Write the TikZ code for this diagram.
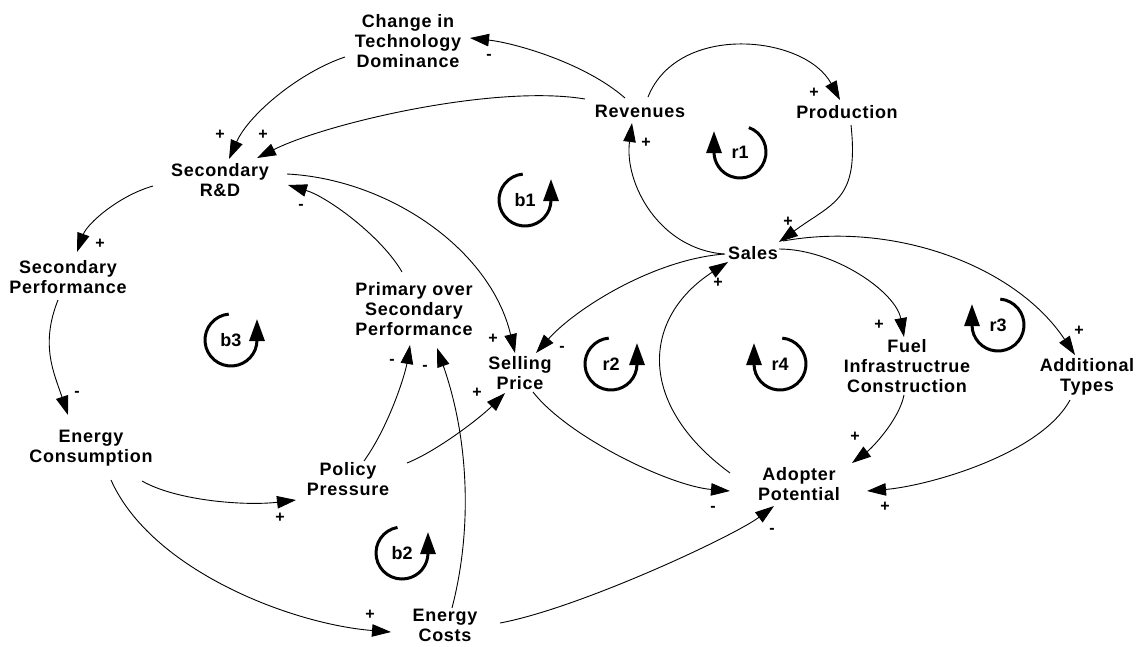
\documentclass[tikz,border=0pt]{standalone}
\usepackage{fontspec}
\setmainfont{Liberation Sans}
\newfontfamily\labfont[LetterSpace=4]{Liberation Sans}
\usetikzlibrary{arrows.meta}
\begin{document}
\begin{tikzpicture}[x=1pt,y=-1pt,
  var/.style={font=\labfont\bfseries\fontsize{18}{20}\selectfont, align=center, inner sep=0pt},
  pol/.style={font=\bfseries\fontsize{16}{16}\selectfont, inner sep=0pt},
  link/.style={line width=0.9pt, -{Triangle[length=19pt,width=12.5pt]}},
  loopmark/.style={line width=3pt, -{Triangle[length=22pt,width=15pt]}},
  looplab/.style={font=\bfseries\fontsize{18}{18}\selectfont, inner sep=0pt}
]
\fill[white] (0,0) rectangle (1140,646);
\useasboundingbox (0,0) rectangle (1140,646);

% variables
\node[var] (ctd) at (408,41) {Change in\\Technology\\Dominance};
\node[var] (rev) at (640,111) {Revenues};
\node[var] (prod) at (847,112) {Production};
\node[var] (srd) at (220,180) {Secondary\\R\&D};
\node[var] (sperf) at (68,277) {Secondary\\Performance};
\node[var] (pos) at (414,309) {Primary over\\Secondary\\Performance};
\node[var] (sp) at (520,373) {Selling\\Price};
\node[var] (ec) at (91,448) {Energy\\Consumption};
\node[var] (pp) at (348,479) {Policy\\Pressure};
\node[var] (ecost) at (445,625) {Energy\\Costs};
\node[var] (sales) at (753,253) {Sales};
\node[var] (fuel) at (907,366) {Fuel\\Infrastructrue\\Construction};
\node[var] (add) at (1087,377) {Additional\\Types};
\node[var] (adopt) at (799,484) {Adopter\\Potential};

% connectors
\draw[link] ([shift={(-15,-13)}]rev.center) .. controls +(-40,-35) and +(45,5) .. ([shift={(62,-3)}]ctd.center);
\draw[link] ([shift={(-63,16)}]ctd.center) .. controls +(-45,15) and +(20,-45) .. ([shift={(9,-21)}]srd.center);
\draw[link] ([shift={(-55,-12)}]rev.center) .. controls +(-90,-15) and +(70,-35) .. ([shift={(37,-22)}]srd.center);
\draw[link] ([shift={(8,-14)}]rev.center) .. controls +(30,-75) and +(-35,-65) .. ([shift={(-7,-12)}]prod.center);
\draw[link] ([shift={(4,13)}]prod.center) .. controls +(8,75) and +(55,-40) .. ([shift={(26,-11)}]sales.center);
\draw[link] ([shift={(-29,1)}]sales.center) .. controls +(-65,-5) and +(-8,60) .. ([shift={(-8,12)}]rev.center);
\draw[link] ([shift={(-67,6)}]srd.center) .. controls +(-35,10) and +(10,-28) .. ([shift={(9,-25)}]sperf.center);
\draw[link] ([shift={(-10,23)}]sperf.center) .. controls +(-18,45) and +(-14,-42) .. ([shift={(-23,-33)}]ec.center);
\draw[link] ([shift={(51,33)}]ec.center) .. controls +(35,20) and +(-50,6) .. ([shift={(-52,21)}]pp.center);
\draw[link] ([shift={(20,32)}]ec.center) .. controls +(40,90) and +(-100,-8) .. ([shift={(-54,7)}]ecost.center);
\draw[link] ([shift={(16,-18)}]pp.center) .. controls +(25,-35) and +(-5,30) .. ([shift={(-4,36)}]pos.center);
\draw[link] ([shift={(7,-17)}]ecost.center) .. controls +(22,-85) and +(30,85) .. ([shift={(23,39)}]pos.center);
\draw[link] ([shift={(59,-16)}]pp.center) .. controls +(30,-12) and +(-25,25) .. ([shift={(-15,20)}]sp.center);
\draw[link] ([shift={(-12,-37)}]pos.center) .. controls +(-20,-35) and +(40,12) .. ([shift={(68,5)}]srd.center);
\draw[link] ([shift={(67,-6)}]srd.center) .. controls +(100,5) and +(-25,-105) .. ([shift={(-5,-20)}]sp.center);
\draw[link] ([shift={(-28,1)}]sales.center) .. controls +(-70,5) and +(40,-45) .. ([shift={(16,-20)}]sp.center);
\draw[link] ([shift={(13,19)}]sp.center) .. controls +(35,45) and +(-60,-5) .. ([shift={(-69,7)}]adopt.center);
\draw[link] ([shift={(-69,-11)}]adopt.center) .. controls +(-95,-70) and +(-85,55) .. ([shift={(-25,9)}]sales.center);
\draw[link] ([shift={(55,-2)}]ecost.center) .. controls +(80,-15) and +(-40,30) .. ([shift={(-25,22)}]adopt.center);
\draw[link] ([shift={(26,-4)}]sales.center) .. controls +(55,0) and +(-8,-45) .. ([shift={(-3,-29)}]fuel.center);
\draw[link] ([shift={(-3,29)}]fuel.center) .. controls +(-5,25) and +(20,-15) .. ([shift={(53,-21)}]adopt.center);
\draw[link] ([shift={(-17,23)}]add.center) .. controls +(-30,55) and +(60,-5) .. ([shift={(68,7)}]adopt.center);
\draw[link] ([shift={(30,-12)}]sales.center) .. controls +(110,-20) and +(-60,-90) .. ([shift={(-12,-22)}]add.center);

% polarities
\node[pol] (p1) at (489,57) {-};
\node[pol] (p2) at (220,135) {+};
\node[pol] (p3) at (263,135) {+};
\node[pol] (p4) at (814,93) {+};
\node[pol] (p5) at (788,222) {+};
\node[pol] (p6) at (646,143) {+};
\node[pol] (p7) at (100,244) {+};
\node[pol] (p8) at (77,394) {-};
\node[pol] (p9) at (280,518) {+};
\node[pol] (p10) at (370,615) {+};
\node[pol] (p11) at (392,362) {-};
\node[pol] (p12) at (425,368) {-};
\node[pol] (p13) at (477,393) {+};
\node[pol] (p14) at (301,207) {-};
\node[pol] (p15) at (493,339) {+};
\node[pol] (p16) at (562,349) {-};
\node[pol] (p17) at (713,509) {-};
\node[pol] (p18) at (718,283) {+};
\node[pol] (p19) at (772,531) {-};
\node[pol] (p20) at (879,325) {+};
\node[pol] (p21) at (855,437) {+};
\node[pol] (p22) at (885,507) {+};
\node[pol] (p23) at (1079,331) {+};

% loop markers
\node[looplab] (r1) at (740,152) {r1};
\draw[loopmark] (r1.center) ++(70:26pt) arc[start angle=70, end angle=-180, radius=26pt] -- ++(0pt,21pt);
\node[looplab] (r3) at (998,325) {r3};
\draw[loopmark] (r3.center) ++(85:26pt) arc[start angle=85, end angle=-180, radius=26pt] -- ++(0pt,21pt);
\node[looplab] (r4) at (780,364) {r4};
\draw[loopmark] (r4.center) ++(85:26pt) arc[start angle=85, end angle=-180, radius=26pt] -- ++(0pt,21pt);
\node[looplab] (b1) at (525,200) {b1};
\draw[loopmark] (b1.center) ++(95:26pt) arc[start angle=95, end angle=360, radius=26pt] -- ++(0pt,21pt);
\node[looplab] (b3) at (231,340) {b3};
\draw[loopmark] (b3.center) ++(95:26pt) arc[start angle=95, end angle=360, radius=26pt] -- ++(0pt,21pt);
\node[looplab] (r2) at (611,364) {r2};
\draw[loopmark] (r2.center) ++(95:26pt) arc[start angle=95, end angle=360, radius=26pt] -- ++(0pt,21pt);
\node[looplab] (b2) at (402,553) {b2};
\draw[loopmark] (b2.center) ++(100:26pt) arc[start angle=100, end angle=360, radius=26pt] -- ++(0pt,21pt);
\end{tikzpicture}
\end{document}
